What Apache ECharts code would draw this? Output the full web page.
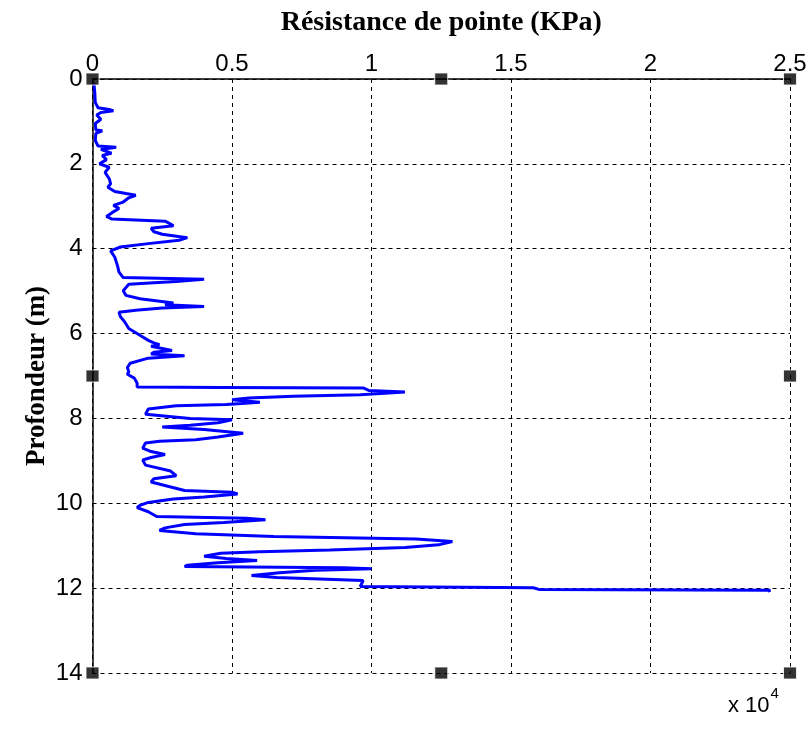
<!DOCTYPE html>
<html>
<head>
<meta charset="utf-8">
<script src="https://cdn.jsdelivr.net/npm/echarts@6/dist/echarts.min.js"></script>
<style>html,body{margin:0;padding:0;background:#fff}#chart{width:811px;height:729px}</style>
</head>
<body>
<div id="chart"></div>
<script>
// Depth (m)
const depth = [0.10,0.30,0.55,0.68,0.72,0.75,0.79,0.85,0.95,1.05,1.20,1.22,1.28,1.45,1.58,1.61,1.66,1.75,1.80,1.90,
2.00,2.08,2.20,2.35,2.47,2.55,2.65,2.70,2.74,2.80,2.90,2.98,3.05,3.15,3.24,3.30,3.35,3.42,3.46,3.52,
3.60,3.66,3.74,3.80,3.88,3.96,4.05,4.20,4.41,4.55,4.68,4.72,4.77,4.80,4.84,4.99,5.10,5.18,5.22,5.28,
5.32,5.36,5.40,5.45,5.50,5.60,5.72,5.88,6.04,6.16,6.22,6.26,6.30,6.40,6.44,6.48,6.52,6.58,6.70,6.80,
6.90,6.96,7.05,7.17,7.26,7.27,7.28,7.34,7.38,7.44,7.48,7.52,7.56,7.62,7.67,7.70,7.78,7.90,8.00,8.03,
8.10,8.16,8.20,8.26,8.35,8.44,8.50,8.54,8.58,8.70,8.78,8.85,8.92,8.98,9.10,9.24,9.35,9.42,9.50,9.60,
9.70,9.74,9.78,9.85,9.90,9.98,10.05,10.10,10.20,10.31,10.35,10.39,10.45,10.50,10.58,10.64,10.72,10.78,10.84,10.90,
10.98,11.04,11.10,11.14,11.18,11.25,11.30,11.35,11.40,11.46,11.49,11.52,11.54,11.58,11.64,11.70,11.75,11.82,11.96,11.99,
12.03,12.05,12.07];
// Résistance de pointe (x 10^4 KPa)
const resistance = [0.005,0.008,0.01,0.02,0.06,0.075,0.03,0.015,0.03,0.01,0.012,0.035,0.012,0.01,0.02,0.085,0.03,0.068,0.035,0.05,
0.025,0.06,0.045,0.06,0.065,0.055,0.08,0.12,0.155,0.13,0.11,0.075,0.095,0.07,0.05,0.07,0.26,0.28,0.29,0.21,
0.22,0.25,0.34,0.31,0.20,0.10,0.065,0.08,0.09,0.095,0.11,0.40,0.30,0.22,0.13,0.11,0.12,0.17,0.22,0.29,
0.26,0.40,0.25,0.155,0.095,0.10,0.115,0.13,0.17,0.20,0.22,0.24,0.21,0.285,0.22,0.21,0.33,0.20,0.135,0.125,
0.13,0.125,0.15,0.16,0.16,0.46,0.97,0.99,1.12,0.96,0.72,0.56,0.50,0.60,0.48,0.30,0.20,0.19,0.35,0.50,
0.45,0.35,0.25,0.40,0.54,0.45,0.37,0.24,0.19,0.18,0.21,0.26,0.21,0.18,0.19,0.28,0.30,0.22,0.21,0.27,
0.33,0.50,0.52,0.40,0.29,0.20,0.17,0.16,0.20,0.23,0.55,0.62,0.47,0.33,0.26,0.24,0.37,0.65,1.16,1.29,
1.24,1.12,0.85,0.60,0.46,0.40,0.48,0.59,0.45,0.34,0.33,0.90,1.00,0.80,0.67,0.57,0.66,0.97,0.96,1.58,
1.60,2.43,2.42];
// Selection handle markers [x, depth]
const handleX = [0, 1.25, 2.5, 0, 2.5, 0, 1.25, 2.5];
const handleY = [0, 0, 0, 7, 7, 14, 14, 14];
const xTicks = [0, 0.5, 1, 1.5, 2, 2.5];
const yTicks = [0, 2, 4, 6, 8, 10, 12, 14];

const chart = echarts.init(document.getElementById('chart'));
const lineData = depth.map((d, i) => [resistance[i], d]);
const handleData = handleX.map((x, i) => [x, handleY[i]]);
chart.setOption({
  animation: false,
  backgroundColor: '#fff',
  grid: {left: 92.5, right: 21, top: 79, bottom: 56, containLabel: false, outerBoundsMode: 'none'},
  xAxis: {
    type: 'value', position: 'top', min: xTicks[0], max: xTicks[xTicks.length-1], interval: 0.5,
    name: 'Résistance de pointe (KPa)', nameLocation: 'middle', nameGap: 42, nameMoveOverlap: false,
    nameTextStyle: {fontFamily: 'Liberation Serif', fontWeight: 'bold', fontSize: 28, color: '#000'},
    axisLine: {show: true, lineStyle: {color: '#000', width: 1.5}},
    axisTick: {show: false},
    axisLabel: {fontFamily: 'Liberation Sans', fontSize: 24, color: '#000', margin: 3},
    splitLine: {show: true, lineStyle: {color: '#000', type: [4, 4], width: 1}}
  },
  yAxis: {
    type: 'value', inverse: true, min: yTicks[0], max: yTicks[yTicks.length-1], interval: 2,
    name: 'Profondeur (m)', nameLocation: 'middle', nameGap: 42, nameRotate: 90, nameMoveOverlap: false,
    nameTextStyle: {fontFamily: 'Liberation Serif', fontWeight: 'bold', fontSize: 27, color: '#000'},
    axisLine: {show: true, lineStyle: {color: '#000', width: 1.5}},
    axisTick: {show: false},
    axisLabel: {fontFamily: 'Liberation Sans', fontSize: 24, color: '#000', margin: 10},
    splitLine: {show: true, lineStyle: {color: '#000', type: [4, 4], width: 1}}
  },
  series: [
    {type: 'line', data: lineData, showSymbol: false, lineStyle: {color: '#0000ff', width: 3}, z: 3},
    {type: 'scatter', data: handleData, symbol: 'rect', symbolSize: [13, 12],
     itemStyle: {color: '#000', borderColor: '#fff', borderWidth: 1}, z: 5}
  ],
  graphic: [{
    type: 'text', left: 728, top: 686,
    style: {text: '{b|x 10}{s|4}', rich: {
      b: {fontFamily: 'Liberation Sans', fontSize: 22, fill: '#000', verticalAlign: 'bottom'},
      s: {fontFamily: 'Liberation Sans', fontSize: 15, fill: '#000', padding: [0, 0, 16, 1]}
    }}
  }]
});
</script>
</body>
</html>
